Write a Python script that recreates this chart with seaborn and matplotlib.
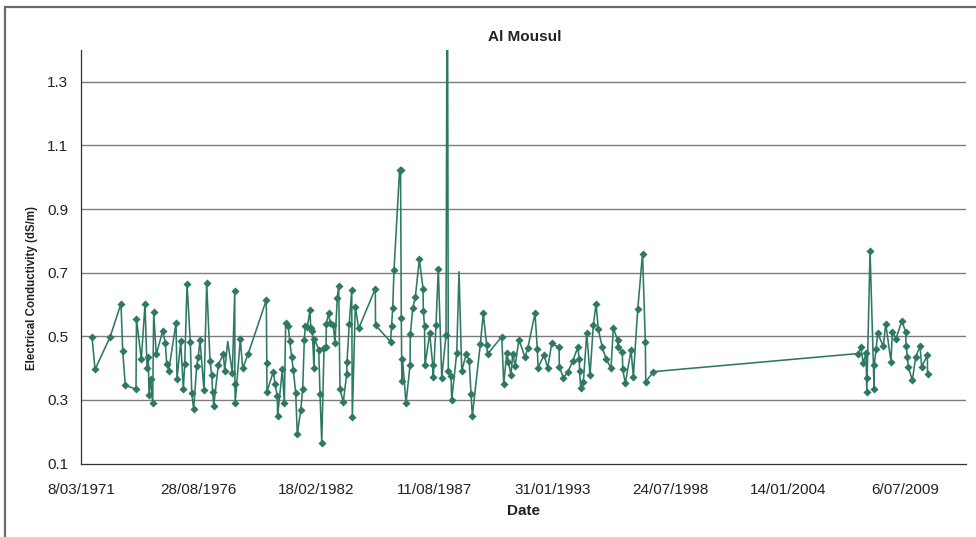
import numpy as np
import pandas as pd
import matplotlib
matplotlib.use("Agg")
import matplotlib.pyplot as plt
from matplotlib.patches import Rectangle
import seaborn as sns

# Sampling dates as Excel serial day numbers
serial_dates = [
    26187, 26238, 26492, 26679, 26708, 26752, 26934, 26942, 27024, 27087,
    27121, 27143, 27155, 27183, 27217, 27234, 27278, 27387, 27431, 27455,
    27489, 27613, 27630, 27693, 27737, 27761, 27800, 27856, 27880, 27913,
    27964, 27992, 28020, 28088, 28134, 28190, 28219, 28236, 28253, 28331,
    28416, 28440, 28491, 28569, 28610, 28613, 28618, 28705, 28745, 28840,
    29146, 29153, 29158, 29265, 29294, 29333, 29338, 29418, 29452, 29475,
    29520, 29543, 29577, 29604, 29645, 29672, 29730, 29764, 29791, 29808,
    29842, 29888, 29900, 29927, 29956, 29964, 30036, 30058, 30087, 30126,
    30160, 30165, 30205, 30228, 30284, 30312, 30351, 30375, 30397, 30453,
    30511, 30516, 30555, 30596, 30606, 30657, 30715, 30997, 31000, 31255,
    31272, 31292, 31314, 31408, 31425, 31438, 31447, 31458, 31518, 31586,
    31591, 31632, 31676, 31744, 31807, 31812, 31832, 31840, 31920, 31971,
    31981, 32027, 32066, 32124, 32197, 32219, 32236, 32282, 32294, 32379,
    32418, 32464, 32542, 32591, 32621, 32644, 32779, 32830, 32885, 32902,
    33143, 33177, 33228, 33255, 33301, 33329, 33369, 33436, 33538, 33584,
    33708, 33747, 33759, 33861, 33924, 33992, 34116, 34121, 34189, 34263,
    34348, 34433, 34460, 34464, 34484, 34528, 34586, 34642, 34698, 34744,
    34783, 34851, 34913, 34998, 35037, 35109, 35114, 35190, 35197, 35241,
    35338, 35377, 35452, 35533, 35581, 35588, 35717, 39197, 39238, 39282,
    39328, 39336, 39341, 39396, 39464, 39469, 39498, 39526, 39622, 39662,
    39752, 39774, 39837, 39934, 40002, 40007, 40029, 40046, 40114, 40172,
    40245, 40273, 40369, 40372,
]

# Electrical conductivity readings (dS/m)
ec_values = [
    0.498, 0.396, 0.497, 0.603, 0.454, 0.346, 0.334, 0.554, 0.428, 0.602,
    0.399, 0.434, 0.315, 0.365, 0.289, 0.575, 0.443, 0.517, 0.480, 0.413,
    0.391, 0.542, 0.365, 0.484, 0.335, 0.412, 0.665, 0.482, 0.321, 0.271,
    0.407, 0.436, 0.488, 0.331, 0.669, 0.423, 0.378, 0.324, 0.282, 0.410,
    0.444, 0.392, 0.484, 0.385, 0.641, 0.350, 0.291, 0.491, 0.399, 0.446,
    0.614, 0.415, 0.326, 0.389, 0.350, 0.312, 0.249, 0.396, 0.289, 0.542,
    0.532, 0.485, 0.436, 0.394, 0.323, 0.192, 0.267, 0.336, 0.488, 0.532,
    0.530, 0.582, 0.525, 0.517, 0.399, 0.493, 0.457, 0.319, 0.166, 0.462,
    0.465, 0.540, 0.574, 0.542, 0.535, 0.478, 0.622, 0.658, 0.333, 0.294,
    0.381, 0.420, 0.540, 0.647, 0.247, 0.593, 0.525, 0.650, 0.535, 0.483,
    0.532, 0.589, 0.708, 1.022, 1.022, 0.558, 0.359, 0.430, 0.289, 0.410,
    0.506, 0.588, 0.624, 0.742, 0.650, 0.580, 0.532, 0.410, 0.509, 0.410,
    0.373, 0.535, 0.713, 0.370, 0.504, 1.900, 0.391, 0.375, 0.300, 0.448,
    0.703, 0.391, 0.446, 0.422, 0.320, 0.250, 0.475, 0.572, 0.474, 0.444,
    0.499, 0.351, 0.447, 0.420, 0.378, 0.446, 0.407, 0.490, 0.434, 0.462,
    0.572, 0.460, 0.402, 0.441, 0.401, 0.478, 0.465, 0.404, 0.370, 0.387,
    0.422, 0.465, 0.428, 0.391, 0.338, 0.355, 0.509, 0.378, 0.535, 0.603,
    0.522, 0.465, 0.430, 0.399, 0.525, 0.490, 0.465, 0.451, 0.397, 0.352,
    0.457, 0.373, 0.585, 0.760, 0.483, 0.357, 0.389, 0.446, 0.467, 0.415,
    0.448, 0.368, 0.325, 0.769, 0.336, 0.410, 0.459, 0.509, 0.469, 0.540,
    0.420, 0.514, 0.493, 0.548, 0.514, 0.470, 0.436, 0.404, 0.362, 0.436,
    0.469, 0.404, 0.441, 0.383,
]

# Readings drawn as line vertices only (no diamond marker)
no_marker_serials = [28491, 32219, 32418]

# Date axis: Excel serial range and tick positions
axis_min_serial = 26000
axis_max_serial = 41025
tick_serials = [26000, 28000, 30000, 32000, 34000, 36000, 38000, 40000]
y_ticks = [0.1, 0.3, 0.5, 0.7, 0.9, 1.1, 1.3]

EXCEL_ORIGIN = "1899-12-30"


def to_date(serials):
    return pd.to_datetime(pd.Series(serials), unit="D", origin=EXCEL_ORIGIN)


df = pd.DataFrame({"Date": to_date(serial_dates), "EC": ec_values})
df["marker"] = ~pd.Series(serial_dates).isin(no_marker_serials)

sns.set_theme(style="white")
plt.rcParams["font.family"] = ["Liberation Sans", "DejaVu Sans"]

W, H = 976, 537
fig = plt.figure(figsize=(W / 100, H / 100), dpi=100)
fig.patch.set_facecolor("white")

# plot area in pixel coordinates
left_px, right_px, top_px, bottom_px = 81, 966, 50, 463.6
ax = fig.add_axes([left_px / W, 1 - bottom_px / H,
                   (right_px - left_px) / W, (bottom_px - top_px) / H])

teal = "#2f7864"
sns.lineplot(data=df, x="Date", y="EC", ax=ax, color=teal, linewidth=1.15,
             estimator=None, sort=False, zorder=3)
sns.scatterplot(data=df[df["marker"]], x="Date", y="EC", ax=ax, color=teal,
                marker="D", s=17, linewidth=0, zorder=4)

ax.set_ylim(0.1, 1.4)
ax.set_xlim(to_date([axis_min_serial])[0], to_date([axis_max_serial])[0])

for yv in y_ticks[1:]:
    ax.axhline(yv, color="#7d7d7d", linewidth=1.0, zorder=1)

ax.set_yticks(y_ticks)
ax.set_yticklabels([f"{v:.1f}" for v in y_ticks])
tick_dates = to_date(tick_serials)
ax.set_xticks(list(tick_dates))
ax.set_xticklabels([f"{d.day}/{d.month:02d}/{d.year}" for d in tick_dates])

ax.tick_params(axis="both", length=0, labelsize=11, colors="#222222")
ax.tick_params(axis="y", pad=9)
ax.tick_params(axis="x", pad=14)

for side in ("top", "right"):
    ax.spines[side].set_visible(False)
for side in ("left", "bottom"):
    ax.spines[side].set_color("#333333")
    ax.spines[side].set_linewidth(0.9)

ax.set_xlabel("")
ax.set_ylabel("")

fig.text(525 / W, 1 - 37 / H, "Al Mousul", ha="center", va="center",
         fontsize=11, fontweight="bold", color="#222222")
fig.text(524 / W, 1 - 511 / H, "Date", ha="center", va="center",
         fontsize=11, fontweight="bold", color="#222222")
fig.text(32 / W, 1 - 288 / H, "Electrical Conductivity (dS/m)", ha="center",
         va="center", rotation=90, fontsize=8.3, fontweight="bold",
         color="#222222")

# chart frame
fig.patches.append(Rectangle((5 / W, -0.1), 1.2, 1.1 - 6.5 / H,
                             transform=fig.transFigure, fill=False,
                             edgecolor="#6a6a6a", linewidth=1.6,
                             clip_on=False))

fig.savefig("out.png", dpi=100, facecolor="white")
